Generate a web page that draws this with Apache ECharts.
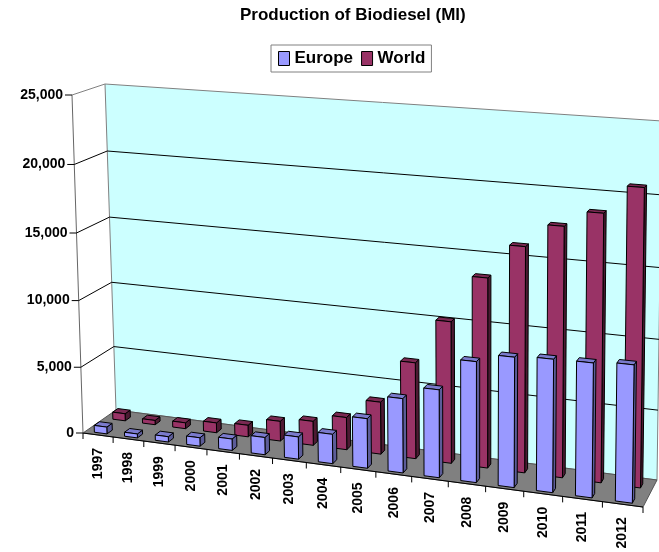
<!DOCTYPE html>
<html>
<head>
<meta charset="utf-8">
<title>Production of Biodiesel (Ml)</title>
<script src="https://cdn.jsdelivr.net/npm/echarts@6/dist/echarts.min.js"></script>
<style>
  html, body { margin: 0; padding: 0; background: #fff; }
  #chart { width: 659px; height: 552px; }
</style>
</head>
<body>
<div id="chart"></div>
<script>
const years = ['1997', '1998', '1999', '2000', '2001', '2002', '2003', '2004',
  '2005', '2006', '2007', '2008', '2009', '2010', '2011', '2012']
const europe = [520, 300, 400, 630, 850, 1280, 1640, 2150, 3600, 5350, 6280, 8560, 9160, 9310, 9350, 9520]
const world = [550, 330, 450, 750, 880, 1490, 1800, 2400, 3850, 7030, 10270, 13640, 16080, 17720, 18840, 20800]
const yTicks = [0, 5000, 10000, 15000, 20000, 25000]

const FONT = '"Liberation Sans", Arial, sans-serif'

// screen corners of the 3d box, order (u,w) = (0,0) (1,0) (1,1) (0,1)
const floorQuad = [[83, 433], [643, 507], [657, 480], [116, 410]]
const topQuad = [[72, 95], [648, 134], [662, 121], [105, 84]]
const U_PERSP = 1.11 // bars get wider to the right
const V_PERSP = 1.035
const BAR_W = 0.42
const BAR_D = 0.16

// unit square -> quad (Heckbert)
function quadMap(q) {
  const [x0, y0] = q[0], [x1, y1] = q[1], [x2, y2] = q[2], [x3, y3] = q[3]
  const dx1 = x1 - x2, dx2 = x3 - x2, dx3 = x0 - x1 + x2 - x3
  const dy1 = y1 - y2, dy2 = y3 - y2, dy3 = y0 - y1 + y2 - y3
  const den = dx1 * dy2 - dx2 * dy1
  const g = (dx3 * dy2 - dx2 * dy3) / den
  const h = (dx1 * dy3 - dx3 * dy1) / den
  const a = x1 - x0 + g * x1, b = x3 - x0 + h * x3
  const d = y1 - y0 + g * y1, e = y3 - y0 + h * y3
  return (s, t) => {
    const k = g * s + h * t + 1
    return [(a * s + b * t + x0) / k, (d * s + e * t + y0) / k]
  }
}
const floorAt = quadMap(floorQuad)
const topAt = quadMap(topQuad)

function project(u, v, w) {
  const uu = u / (U_PERSP - (U_PERSP - 1) * u)
  const vv = v / (V_PERSP - (V_PERSP - 1) * v)
  const f = floorAt(uu, w), t = topAt(uu, w)
  return [f[0] + (t[0] - f[0]) * vv, f[1] + (t[1] - f[1]) * vv]
}

// pixel from the hidden grid -> unit box coords
function unit(params, api, x, y) {
  const cs = params.coordSys
  const p = api.coord([x, y])
  return [(p[0] - cs.x) / cs.width, (cs.y + cs.height - p[1]) / cs.height]
}

const line = (a, b, color, width) => ({
  type: 'line',
  shape: { x1: a[0], y1: a[1], x2: b[0], y2: b[1] },
  style: { stroke: color, lineWidth: width || 1 }
})

const renderWalls = (params) => {
  if (params.dataIndex !== 0) return
  const wall = [project(0, 0, 1), project(1, 0, 1), project(1, 1, 1), project(0, 1, 1)]
  const floor = [project(0, 0, 0), project(1, 0, 0), project(1, 0, 1), project(0, 0, 1)]
  return {
    type: 'group',
    children: [
      { type: 'polygon', shape: { points: wall }, style: { fill: '#CCFFFF', stroke: '#808080', lineWidth: 1 } },
      { type: 'polygon', shape: { points: floor }, style: { fill: '#808080', stroke: '#555', lineWidth: 1 } },
      line(project(0, 0, 0), project(1, 0, 0), '#000'),
      line(project(0, 0, 0), project(0, 1, 0), '#666'),
      line(project(0, 1, 0), project(0, 1, 1), '#808080')
    ]
  }
}

const renderGrid = (params, api) => {
  const value = api.value(1)
  const v = unit(params, api, 0, value)[1]
  const front = project(0, v, 0)
  const children = [
    line([front[0] - 7, front[1]], front, '#000'),
    {
      type: 'text',
      style: {
        text: value.toLocaleString('en-US'),
        x: front[0] - 9, y: front[1],
        align: 'right', verticalAlign: 'middle',
        font: 'bold 14px ' + FONT, fill: '#000'
      }
    }
  ]
  if (v > 0 && v < 1) {
    children.push(line(front, project(0, v, 1), '#000'))
    children.push(line(project(0, v, 1), project(1, v, 1), '#000'))
  }
  return { type: 'group', children }
}

const renderCategory = (params, api) => {
  const cs = params.coordSys
  const uc = unit(params, api, api.value(0), 0)[0]
  const band = api.size([1, 0])[0] / cs.width
  const edges = [uc - band / 2]
  if (params.dataIndex === years.length - 1) edges.push(1)
  const children = edges.map(ub => {
    const p = project(ub, 0, 0)
    return line(p, [p[0], p[1] + 6], '#000')
  })
  const c = project(uc, 0, 0)
  children.push({
    type: 'text',
    x: c[0], y: c[1] + 13,
    rotation: Math.PI / 2,
    style: {
      text: years[api.value(0)],
      x: 0, y: 0,
      align: 'right', verticalAlign: 'middle',
      font: 'bold 14px ' + FONT, fill: '#000'
    }
  })
  return { type: 'group', children }
}

const renderBar = (colors, w0) => (params, api) => {
  const cs = params.coordSys
  const [u, v] = unit(params, api, api.value(0), api.value(1))
  const half = api.size([1, 0])[0] / cs.width * BAR_W / 2
  const u0 = u - half, u1 = u + half, w1 = w0 + BAR_D
  const face = (pts, fill) => ({
    type: 'polygon',
    shape: { points: pts.map(p => project(p[0], p[1], p[2])) },
    style: { fill, stroke: '#000', lineWidth: 1, lineJoin: 'round' }
  })
  return {
    type: 'group',
    children: [
      face([[u1, 0, w0], [u1, 0, w1], [u1, v, w1], [u1, v, w0]], colors[2]),
      face([[u0, v, w0], [u1, v, w0], [u1, v, w1], [u0, v, w1]], colors[1]),
      face([[u0, 0, w0], [u1, 0, w0], [u1, v, w0], [u0, v, w0]], colors[0])
    ]
  }
}

const chart = echarts.init(document.getElementById('chart'))

chart.setOption({
  animation: false,
  backgroundColor: '#fff',
  title: {
    text: 'Production of Biodiesel (Ml)',
    left: 235,
    top: 2,
    textStyle: { fontSize: 17, fontWeight: 'bold', fontFamily: FONT, color: '#000' }
  },
  legend: {
    data: ['Europe', 'World'],
    left: 271,
    top: 45,
    padding: [5, 6, 5, 7],
    itemGap: 8,
    itemWidth: 11,
    itemHeight: 14,
    icon: 'rect',
    borderColor: '#808080',
    borderWidth: 1,
    itemStyle: { borderColor: '#000', borderWidth: 1 },
    textStyle: { fontSize: 17, fontWeight: 'bold', fontFamily: FONT, color: '#000' }
  },
  grid: { left: 0, right: 0, top: 0, bottom: 0, show: false },
  xAxis: { type: 'category', data: years, show: false },
  yAxis: { type: 'value', min: 0, max: 25000, interval: 5000, show: false },
  series: [
    {
      name: 'walls', type: 'custom', silent: true, z: 1,
      renderItem: renderWalls, data: [[0, 0]]
    },
    {
      name: 'gridlines', type: 'custom', silent: true, z: 2,
      renderItem: renderGrid, data: yTicks.map(t => [0, t])
    },
    {
      name: 'categories', type: 'custom', silent: true, z: 2,
      renderItem: renderCategory, data: years.map((y, i) => [i, 0])
    },
    {
      name: 'World', type: 'custom', silent: true, z: 3,
      itemStyle: { color: '#993366' },
      renderItem: renderBar(['#993366', '#7A2952', '#4D1A33'], 0.64),
      data: world.map((v, i) => [i, v])
    },
    {
      name: 'Europe', type: 'custom', silent: true, z: 4,
      itemStyle: { color: '#9999FF' },
      renderItem: renderBar(['#9999FF', '#7A7ACC', '#5C5C99'], 0.08),
      data: europe.map((v, i) => [i, v])
    }
  ]
})

window.addEventListener('resize', () => chart.resize())
</script>
</body>
</html>
